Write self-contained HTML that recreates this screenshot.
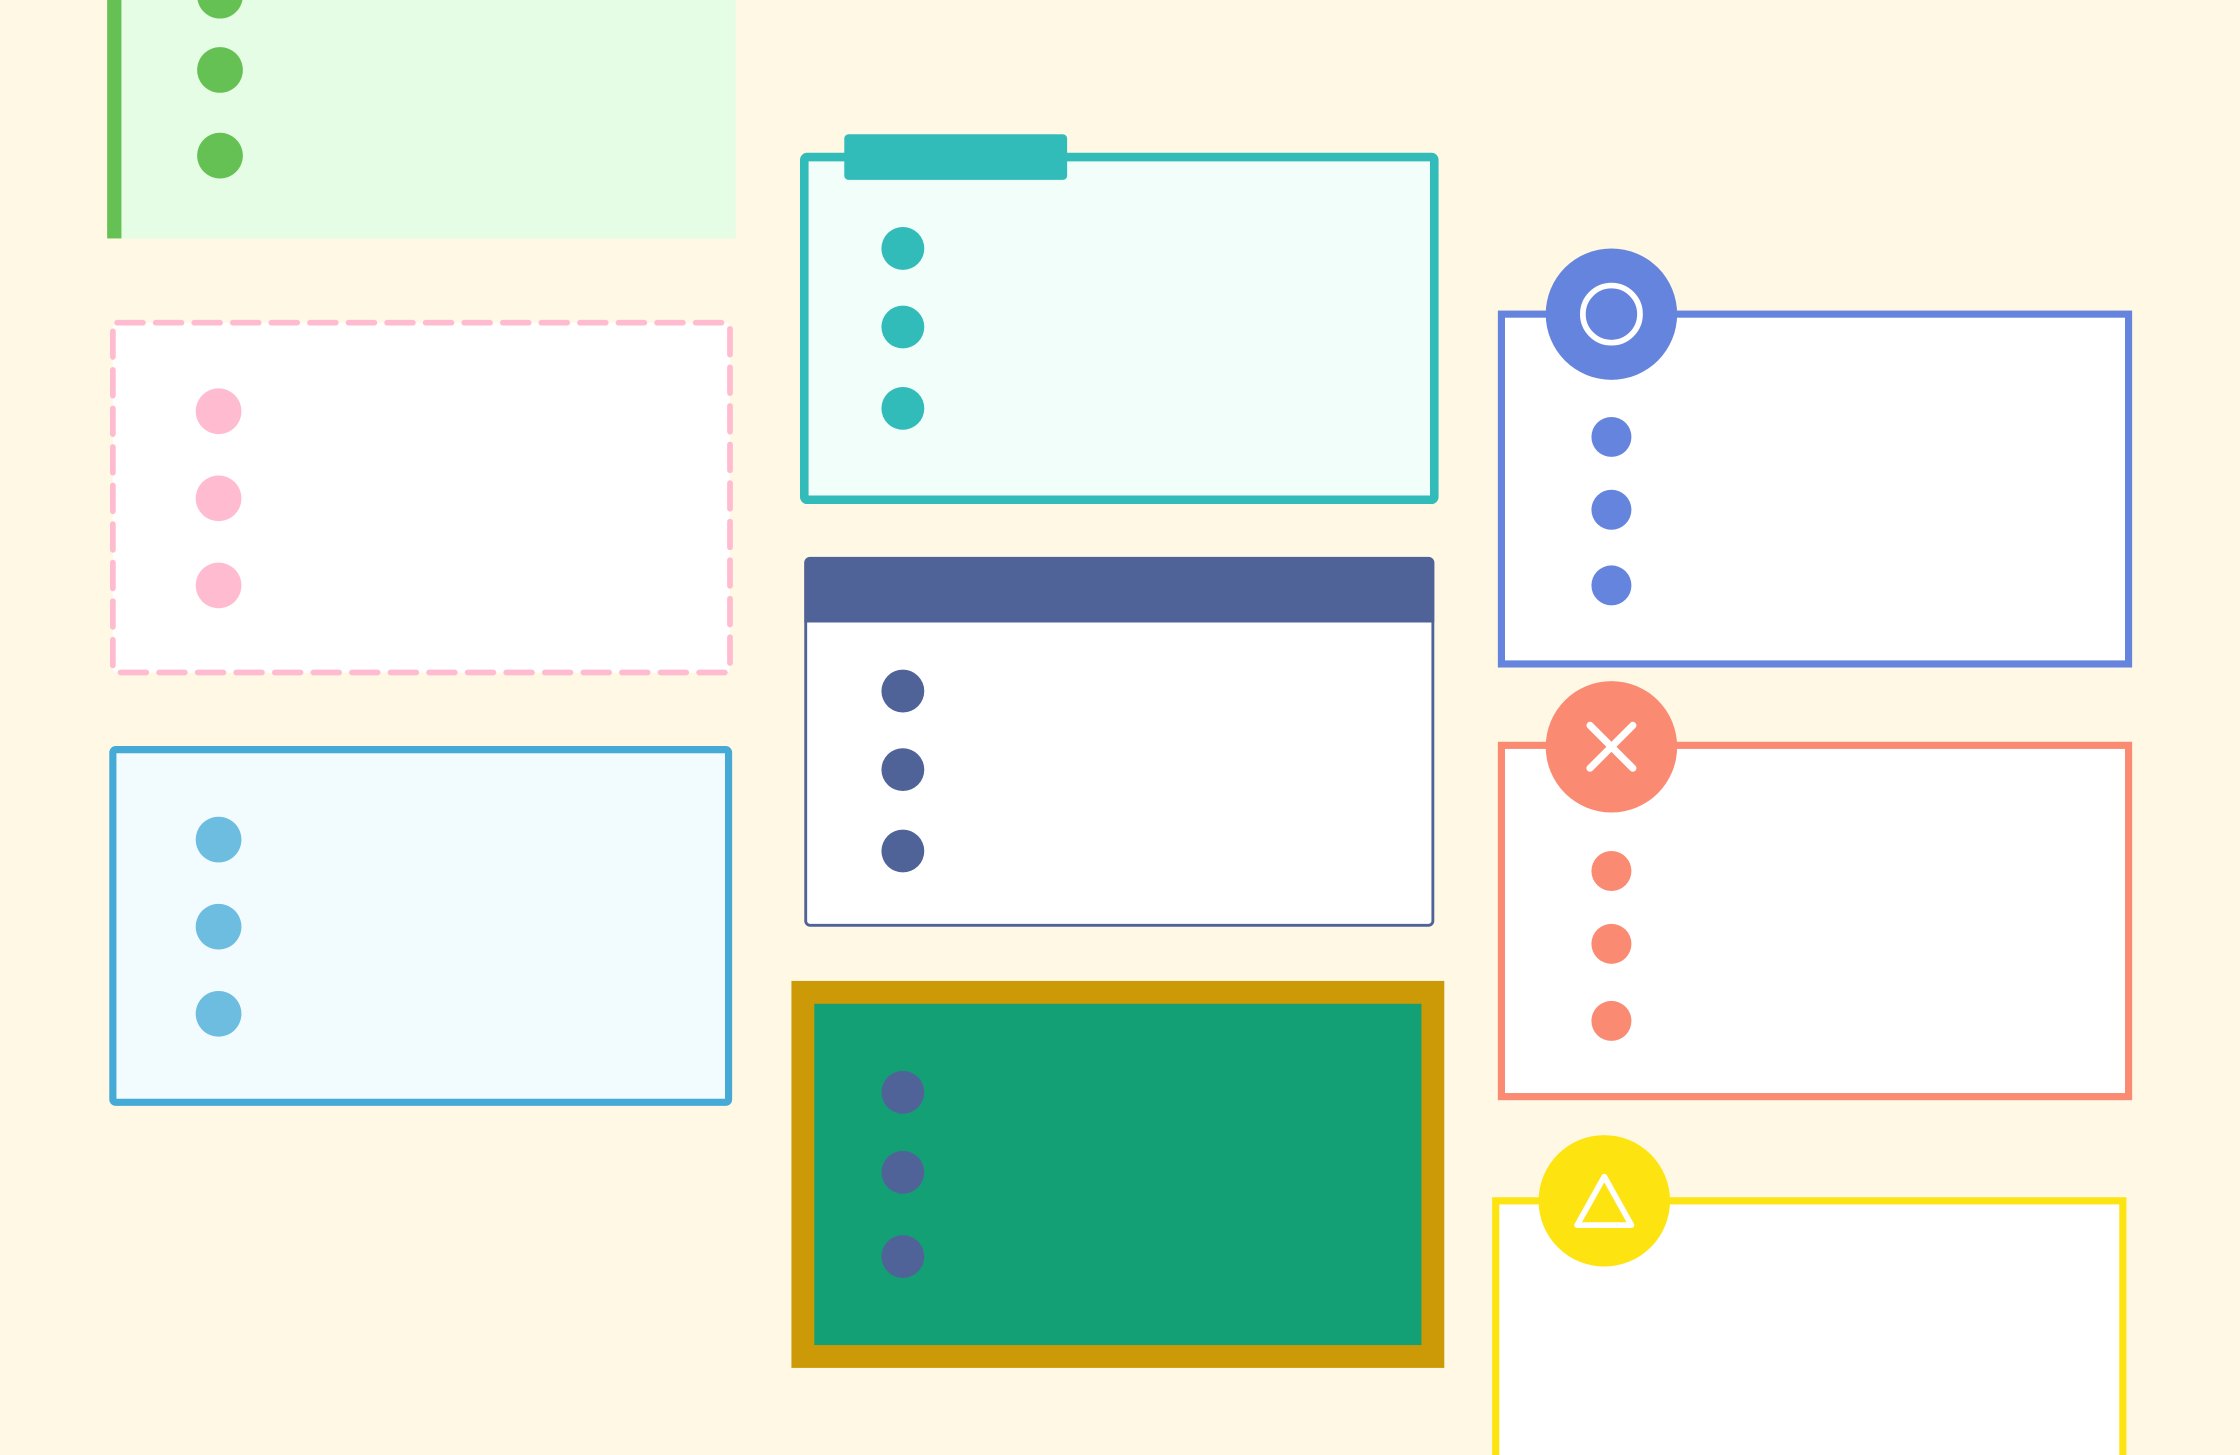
<!DOCTYPE html>
<html><head><style>html,body{margin:0;padding:0;background:#fff8e5;}svg{display:block}</style></head><body>
<svg width="2240" height="1455" viewBox="0 0 1568 1019" preserveAspectRatio="none" xmlns="http://www.w3.org/2000/svg">
<rect width="1568" height="1019" fill="#fff8e5"/>
<!-- green -->
<rect x="85" y="-5" width="430" height="172" fill="#e4fde4"/>
<rect x="75" y="-5" width="10" height="172" fill="#66c155"/>
<g fill="#66c155"><circle cx="154" cy="-3" r="16"/><circle cx="154" cy="49" r="16"/><circle cx="154" cy="109" r="16"/></g>
<!-- pink dashed -->
<rect x="79" y="226" width="432" height="245" rx="3" fill="#fff" stroke="#ffbbd0" stroke-width="4" stroke-dasharray="18 9" stroke-linecap="round"/>
<g fill="#ffbbd0"><circle cx="153" cy="288" r="16"/><circle cx="153" cy="349" r="16"/><circle cx="153" cy="410" r="16"/></g>
<!-- light blue -->
<rect x="79" y="525" width="431" height="247" rx="2" fill="#f2fbfe" stroke="#45aad5" stroke-width="5"/>
<g fill="#6cbde0"><circle cx="153" cy="588" r="16"/><circle cx="153" cy="649" r="16"/><circle cx="153" cy="710" r="16"/></g>
<!-- teal -->
<rect x="563" y="110" width="441" height="240" rx="2" fill="#f2fef9" stroke="#32bcb9" stroke-width="6"/>
<rect x="591" y="94" width="156" height="32" rx="3" fill="#32bcb9"/>
<g fill="#32bcb9"><circle cx="632" cy="174" r="15"/><circle cx="632" cy="229" r="15"/><circle cx="632" cy="286" r="15"/></g>
<!-- navy -->
<rect x="564" y="391" width="439" height="257" rx="3" fill="#fff" stroke="#506398" stroke-width="2"/>
<path d="M563 394 a3 3 0 0 1 3 -3 h435 a3 3 0 0 1 3 3 V436 H563 Z" fill="#506398"/>
<g fill="#506398"><circle cx="632" cy="484" r="15"/><circle cx="632" cy="539" r="15"/><circle cx="632" cy="596" r="15"/></g>
<!-- gold/green -->
<rect x="554" y="687" width="457" height="271" fill="#cc9a06"/>
<rect x="570" y="703" width="425" height="239" fill="#14a075"/>
<g fill="#506398"><circle cx="632" cy="765" r="15"/><circle cx="632" cy="821" r="15"/><circle cx="632" cy="880" r="15"/></g>
<!-- blue right -->
<rect x="1051" y="220" width="439" height="245" fill="#fff" stroke="#6584dd" stroke-width="5"/>
<circle cx="1128" cy="220" r="46" fill="#6584dd"/>
<circle cx="1128" cy="220" r="20" fill="#6584dd" stroke="#fff" stroke-width="4"/>
<g fill="#6584dd"><circle cx="1128" cy="306" r="14"/><circle cx="1128" cy="357" r="14"/><circle cx="1128" cy="410" r="14"/></g>
<!-- orange -->
<rect x="1051" y="522" width="439" height="246" fill="#fff" stroke="#fa8a72" stroke-width="5"/>
<circle cx="1128" cy="523" r="46" fill="#fa8a72"/>
<path d="M1113 508 L1143 538 M1143 508 L1113 538" stroke="#fff" stroke-width="5" stroke-linecap="round"/>
<g fill="#fa8a72"><circle cx="1128" cy="610" r="14"/><circle cx="1128" cy="661" r="14"/><circle cx="1128" cy="715" r="14"/></g>
<!-- yellow -->
<rect x="1047" y="841" width="439" height="200" fill="#fff" stroke="#fde30f" stroke-width="5"/>
<circle cx="1123" cy="841" r="46" fill="#fde30f"/>
<path d="M1123 824 L1142 858 L1104 858 Z" fill="none" stroke="#fff" stroke-width="4" stroke-linejoin="round"/>
</svg>
</body></html>
